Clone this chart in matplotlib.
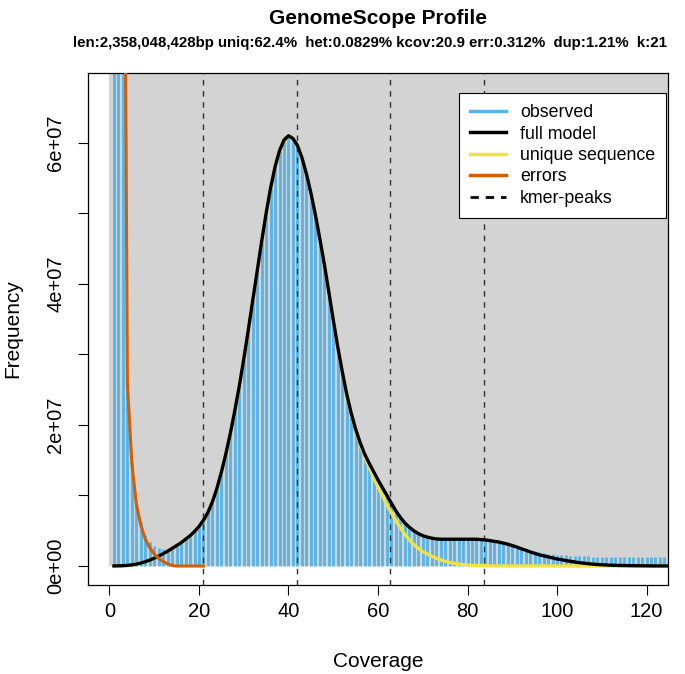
import numpy as np
import matplotlib.pyplot as plt
from matplotlib.patches import Rectangle
from matplotlib.lines import Line2D

plt.rcParams['font.family'] = ['Liberation Sans', 'DejaVu Sans']

# --- k-mer histogram (frequency in millions) ---
coverage = np.arange(1, 127)

observed = [
    600, 280, 140, 26.1, 14.7, 9.1, 6.2, 4.4, 3.45, 2.8,
    2.5, 2.4, 2.4, 2.6, 2.9, 3.35, 3.85, 4.4, 5.0, 5.65,
    6.5, 7.6, 9.1, 11.0, 13.3, 15.9, 18.8, 22.0, 25.5, 29.3,
    33.4, 37.6, 41.8, 46.0, 50.0, 53.6, 56.6, 58.9, 60.4, 61.0,
    60.6, 59.6, 57.9, 55.6, 52.9, 49.8, 46.4, 42.8, 38.9, 34.9,
    31.1, 27.6, 24.4, 21.7, 19.4, 17.5, 15.9, 14.6, 13.4, 12.2,
    11.1, 10.0, 8.9, 7.8, 6.9, 6.1, 5.5, 5.0, 4.6, 4.3,
    4.1, 3.95, 3.85, 3.8, 3.8, 3.8, 3.8, 3.8, 3.8, 3.8,
    3.8, 3.8, 3.8, 3.75, 3.7, 3.6, 3.45, 3.3, 3.15, 3.0,
    2.8, 2.6, 2.45, 2.25, 2.1, 1.95, 1.85, 1.75, 1.65, 1.6,
    1.55, 1.5, 1.45, 1.42, 1.4, 1.38, 1.36, 1.35, 1.34, 1.33,
    1.32, 1.32, 1.31, 1.31, 1.3, 1.3, 1.29, 1.29, 1.28, 1.28,
    1.27, 1.27, 1.26, 1.26, 1.25, 1.25,
]

full_model = [
    0.02, 0.03, 0.05, 0.09, 0.16, 0.27, 0.42, 0.62, 0.85, 1.1,
    1.4, 1.75, 2.1, 2.5, 2.9, 3.3, 3.8, 4.3, 4.9, 5.6,
    6.5, 7.6, 9.1, 11.0, 13.3, 15.9, 18.8, 22.0, 25.5, 29.3,
    33.4, 37.6, 41.8, 46.0, 50.0, 53.6, 56.6, 58.9, 60.4, 61.0,
    60.6, 59.6, 57.9, 55.6, 52.9, 49.8, 46.4, 42.8, 38.9, 34.9,
    31.1, 27.6, 24.4, 21.7, 19.4, 17.5, 15.9, 14.6, 13.4, 12.2,
    11.1, 10.0, 8.9, 7.8, 6.9, 6.1, 5.5, 5.0, 4.6, 4.3,
    4.1, 3.95, 3.85, 3.8, 3.8, 3.8, 3.8, 3.8, 3.8, 3.8,
    3.8, 3.8, 3.75, 3.7, 3.6, 3.5, 3.4, 3.25, 3.1, 2.9,
    2.7, 2.45, 2.25, 2.0, 1.8, 1.6, 1.45, 1.3, 1.15, 1.0,
    0.9, 0.78, 0.67, 0.57, 0.48, 0.4, 0.33, 0.27, 0.22, 0.18,
    0.15, 0.12, 0.1, 0.08, 0.07, 0.06, 0.05, 0.04, 0.035, 0.03,
    0.025, 0.02, 0.02, 0.015, 0.015, 0.01,
]

unique_seq = [
    0.02, 0.03, 0.05, 0.09, 0.16, 0.27, 0.42, 0.62, 0.85, 1.1,
    1.4, 1.75, 2.1, 2.5, 2.9, 3.3, 3.8, 4.3, 4.9, 5.6,
    6.5, 7.6, 9.1, 11.0, 13.3, 15.9, 18.8, 22.0, 25.5, 29.3,
    33.4, 37.6, 41.8, 46.0, 50.0, 53.6, 56.6, 58.9, 60.4, 61.0,
    60.6, 59.6, 57.9, 55.6, 52.9, 49.8, 46.4, 42.8, 38.9, 34.9,
    31.1, 27.6, 24.4, 21.6, 19.2, 17.2, 15.5, 14.0, 12.6, 11.2,
    10.0, 8.7, 7.5, 6.4, 5.4, 4.5, 3.7, 3.05, 2.5, 2.05,
    1.7, 1.4, 1.12, 0.88, 0.68, 0.52, 0.39, 0.29, 0.21, 0.15,
    0.1, 0.07, 0.05, 0.03, 0.02, 0.01, 0.01, 0.01, 0.01, 0.01,
    0.01, 0.01, 0.01, 0.01, 0.01, 0.01, 0.01, 0.01, 0.01, 0.01,
    0.01, 0.01, 0.01, 0.01, 0.01, 0.01, 0.01, 0.01, 0.01, 0.01,
    0.01, 0.01, 0.01, 0.01, 0.01, 0.01, 0.01, 0.01, 0.01, 0.01,
    0.01, 0.01, 0.01, 0.01, 0.01, 0.01,
]

err_coverage = np.arange(1, 22)
errors = [
    520, 260, 140, 26.0, 14.5, 8.8, 5.8, 3.8, 2.6, 1.7,
    1.1, 0.65, 0.3, 0.08, 0, 0, 0, 0, 0, 0, 0,
]

kmer_peaks = [20.9, 41.8, 62.7, 83.6]

title = "GenomeScope Profile"
subtitle = ("len:2,358,048,428bp uniq:62.4%  het:0.0829% kcov:20.9 "
            "err:0.312%  dup:1.21%  k:21")

x_limit = 120
y_limit = 6.72e7

C_HIST = "#56B4E9"
C_MODEL = "black"
C_UNIQUE = "#F0E442"
C_ERR = "#D55E00"
C_BG = "#D3D3D3"

scale = 1e6
obs = np.array(observed) * scale
mod = np.array(full_model) * scale
uni = np.array(unique_seq) * scale
err = np.array(errors) * scale

fig = plt.figure(figsize=(6.85, 6.74), dpi=100)
ax = fig.add_axes([88 / 685, 1 - 585 / 674, 580 / 685, 512 / 674])
ax.set_xlim(-0.04 * x_limit, 1.04 * x_limit)
ax.set_ylim(-0.04 * y_limit, 1.04 * y_limit)

ax.add_patch(Rectangle((0, 0), 1000, 1e10, facecolor=C_BG, edgecolor="none", zorder=0))
ax.vlines(coverage, 0, obs, colors=C_HIST, linewidth=2.0, zorder=1)
for p in kmer_peaks:
    ax.axvline(p, color="#333333", linewidth=1.0, linestyle=(0, (4, 4)), zorder=2)
ax.plot(coverage, uni, color=C_UNIQUE, linewidth=2.4, zorder=3)
ax.plot(coverage, mod, color=C_MODEL, linewidth=2.4, zorder=4)
ax.plot(err_coverage, err, color=C_ERR, linewidth=2.2, zorder=5)

ax.set_xticks(np.arange(0, 121, 20))
ax.set_yticks(np.arange(0, 7e7, 1e7))
ax.set_yticklabels(["0e+00", "", "2e+07", "", "4e+07", "", "6e+07"],
                   rotation=90, va="center")
ax.tick_params(direction="out", length=7.5, width=0.8, labelsize=14.5)
ax.tick_params(axis="y", pad=9)
ax.tick_params(axis="x", pad=5)
for s in ax.spines.values():
    s.set_linewidth(0.9)

ax.set_xlabel("Coverage", fontsize=15, labelpad=22)
ax.set_ylabel("Frequency", fontsize=15, labelpad=17)

cx = (88 + 580 / 2) / 685
fig.text(cx, 1 - 19 / 674, title, ha="center", va="center", fontsize=15, fontweight="bold")
fig.text(cx - 8 / 685, 1 - 43 / 674, subtitle, ha="center", va="center",
         fontsize=10.8, fontweight="bold")

handles = [
    Line2D([], [], color=C_HIST, linewidth=2.5),
    Line2D([], [], color=C_MODEL, linewidth=2.5),
    Line2D([], [], color=C_UNIQUE, linewidth=2.5),
    Line2D([], [], color=C_ERR, linewidth=2.5),
    Line2D([], [], color="black", linewidth=2.0, linestyle=(0, (3, 2.5))),
]
labels = ["observed", "full model", "unique sequence", "errors", "kmer-peaks"]
leg = ax.legend(handles, labels, loc="upper right", bbox_to_anchor=(0.996, 0.96),
                fontsize=12.8, frameon=True, fancybox=False, edgecolor="black",
                framealpha=1, borderpad=0.6, labelspacing=0.25,
                handlelength=2.0, handletextpad=0.8, borderaxespad=0)
leg.get_frame().set_linewidth(0.8)

plt.savefig("out.png", dpi=100)
